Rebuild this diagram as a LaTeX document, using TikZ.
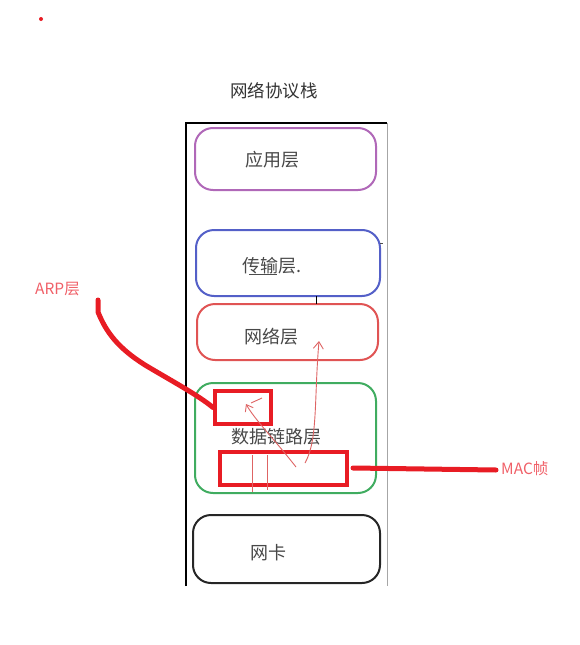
\documentclass[tikz,border=0pt]{standalone}
\usepackage{fontspec}
\setmainfont{Noto Sans CJK SC}
\usetikzlibrary{arrows.meta}
\definecolor{cpurple}{RGB}{176,104,184}
\definecolor{cblue}{RGB}{84,96,200}
\definecolor{cred}{RGB}{224,84,84}
\definecolor{cgreen}{RGB}{64,172,96}
\definecolor{cmark}{RGB}{232,28,36}
\definecolor{clabel}{RGB}{240,96,104}
\definecolor{ctext}{RGB}{72,72,72}
\definecolor{cthin}{RGB}{222,100,100}
\begin{document}
\begin{tikzpicture}[x=1pt,y=-1pt,
  layer/.style={draw, rounded corners=18pt, line width=2pt, inner sep=0pt},
  ltext/.style={text=ctext, font=\fontsize{18}{18}\selectfont, inner sep=0pt},
  redbox/.style={draw=cmark, line width=4pt, inner sep=0pt},
  thinred/.style={draw=cthin, line width=0.9pt},
  hand/.style={draw=cmark, line width=5pt, line cap=round, line join=round},
  note/.style={text=clabel, font=\fontsize{15.5}{15.5}\selectfont, inner sep=0pt}]
\useasboundingbox (0,0) rectangle (579,645);
\fill[cmark] (41,19) circle (2);
\node[text=black!80, font=\fontsize{17.5}{17.5}\selectfont, inner sep=0pt] (title) at (274,91) {网络协议栈};
% frame
\coordinate (ftl) at (186,123);
\coordinate (ftr) at (387,123);
\coordinate (fbl) at (186,586);
\coordinate (fbr) at (387,586);
\draw[line width=2pt] (fbl) -- (ftl) -- (ftr);
\draw[black!35, line width=1pt] (ftr) -- (fbr);
% layers
\node[layer, draw=cpurple, minimum width=181pt, minimum height=62pt] (app) at (285.5,159) {};
\node[ltext] (appt) at (272,160) {应用层};
\node[layer, draw=cblue, minimum width=184pt, minimum height=66pt] (trans) at (288,263) {};
\node[ltext] (transt) at (272,266) {传输层.};
\coordinate (u1) at (249,274);
\coordinate (u2) at (277,274);
\draw[black!70, line width=1pt] (u1) -- (u2);
\coordinate (tk1) at (380,243);
\coordinate (tk2) at (383,243);
\draw[black!70, line width=0.8pt] (tk1) -- (tk2);
\node[layer, draw=cred, minimum width=181pt, minimum height=56pt] (net) at (287.5,332) {};
\node[ltext] (nett) at (271,337) {网络层};
\coordinate (l1) at (316,296);
\coordinate (l2) at (316,304);
\draw[black, line width=0.8pt] (l1) -- (l2);
\node[layer, draw=cgreen, minimum width=181pt, minimum height=110pt] (dl) at (285.5,438) {};
\node[ltext] (dlt) at (276,437) {数据链路层};
\node[layer, draw=black!85, minimum width=187pt, minimum height=68pt] (nic) at (286.5,549) {};
\node[ltext] (nict) at (268,553) {网卡};
% red boxes
\node[redbox, minimum width=56pt, minimum height=33pt] (arp) at (243,407.5) {};
\node[redbox, minimum width=127pt, minimum height=33pt] (mac) at (283.5,468.5) {};
% thin red strokes
\coordinate (v1a) at (252,455);
\coordinate (v1b) at (252,492);
\coordinate (v2a) at (267,455);
\coordinate (v2b) at (267,490);
\draw[thinred] (v1a) -- (v1b);
\draw[thinred] (v2a) -- (v2b);
\coordinate (a1s) at (296,467);
\coordinate (a1e) at (246,404);
\draw[thinred, -{Straight Barb[length=6pt,width=9pt]}] (a1s) .. controls (275,440) and (255,420) .. (a1e);
\coordinate (b1) at (251,403);
\coordinate (b2) at (262,398);
\draw[thinred] (b1) -- (b2);
\coordinate (a2s) at (305,463);
\coordinate (a2e) at (319,341);
\draw[thinred, -{Straight Barb[length=7pt,width=10pt]}] (a2s) .. controls (318,440) and (314,400) .. (a2e);
% annotations
\node[note, anchor=west] (arpl) at (35,289) {ARP层};
\node[note, anchor=west] (macl) at (501,469) {MAC帧};
\coordinate (h0) at (98,300);
\draw[hand] (h0) -- (98,312) .. controls (106,332) and (118,348) .. (145,365)
  .. controls (170,380) and (198,395) .. (arp.west);
\coordinate (m0) at (353,468);
\coordinate (m1) at (496,470);
\draw[hand] (m0) -- (m1);
\end{tikzpicture}
\end{document}
